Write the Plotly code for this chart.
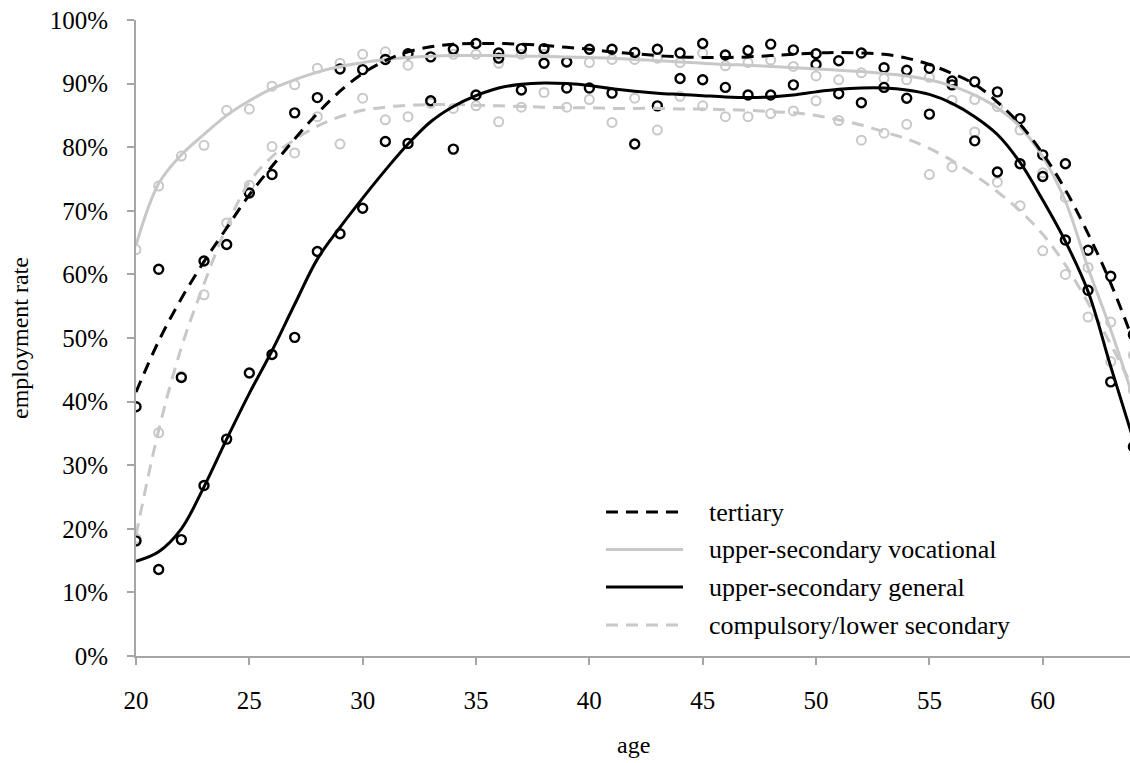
import plotly.graph_objects as go

ages = list(range(20, 65))

# observed employment rates (%)
tertiary = [39.2, 60.8, 43.8, 62.1, 64.7, 72.8, 75.7, 85.4, 87.8, 92.3,
            92.2, 93.8, 94.7, 94.2, 95.4, 96.3, 94.8, 95.5, 95.5, 93.4,
            95.4, 95.4, 94.9, 95.4, 94.8, 96.3, 94.5, 95.2, 96.2, 95.3,
            94.7, 93.6, 94.8, 92.5, 92.1, 92.4, 90.4, 90.3, 88.7, 84.5,
            78.8, 77.4, 63.8, 59.7, 50.5]
vocational = [63.9, 73.9, 78.6, 80.3, 85.8, 86.0, 89.6, 89.8, 92.4, 93.2,
              94.6, 95.0, 92.9, 94.2, 94.6, 94.6, 93.2, 94.6, 94.6, 93.5,
              93.3, 93.8, 93.8, 94.0, 93.3, 94.8, 92.8, 93.3, 93.7, 92.7,
              91.2, 90.6, 91.7, 90.8, 90.6, 91.0, 87.4, 87.5, 86.4, 82.7,
              76.0, 72.1, 61.1, 52.5, 47.3]
general = [18.1, 13.6, 18.3, 26.8, 34.1, 44.5, 47.4, 50.1, 63.6, 66.4,
           70.4, 80.9, 80.6, 87.3, 79.7, 88.2, 94.0, 89.0, 93.2, 89.3,
           89.3, 88.5, 80.5, 86.5, 90.8, 90.6, 89.4, 88.2, 88.2, 89.8,
           93.0, 88.4, 87.0, 89.4, 87.7, 85.2, 89.8, 81.0, 76.1, 77.4,
           75.4, 65.4, 57.5, 43.1, 32.9]
compulsory = [18.5, 35.1, 44.0, 56.8, 68.1, 74.0, 80.1, 79.1, 84.8, 80.5,
              87.7, 84.3, 84.8, 86.9, 86.1, 86.5, 84.0, 86.3, 88.6, 86.3,
              87.5, 83.9, 87.7, 82.7, 88.0, 86.5, 84.8, 84.8, 85.3, 85.7,
              87.3, 84.2, 81.1, 82.2, 83.6, 75.7, 76.9, 82.4, 74.5, 70.8,
              63.7, 60.0, 53.3, 46.3, 41.8]

# smoothed trend lines (%)
tertiary_fit = [41.5, 49.5, 56.2, 62.0, 67.3, 72.5, 77.0, 81.3, 85.3, 88.8,
                91.6, 93.6, 95.0, 95.8, 96.2, 96.3, 96.3, 96.2, 96.0, 95.7,
                95.4, 95.0, 94.7, 94.4, 94.2, 94.1, 94.1, 94.2, 94.4, 94.6,
                94.8, 94.9, 94.8, 94.6, 94.0, 93.0, 91.6, 89.9, 87.1, 83.6,
                79.0, 73.3, 66.4, 58.6, 49.5]
vocational_fit = [64.6, 74.3, 78.8, 82.0, 85.0, 87.3, 89.2, 90.6, 91.8, 92.7,
                  93.3, 93.8, 94.1, 94.3, 94.4, 94.4, 94.4, 94.3, 94.3, 94.2,
                  94.1, 94.0, 93.8, 93.6, 93.4, 93.2, 93.0, 92.9, 92.7, 92.5,
                  92.3, 92.1, 91.9, 91.6, 91.2, 90.6, 89.6, 88.2, 86.2, 83.2,
                  78.5, 71.5, 61.0, 51.3, 40.5]
general_fit = [14.9, 16.4, 20.0, 26.6, 34.1, 41.3, 48.0, 55.3, 62.4, 67.4,
               72.0, 76.4, 80.5, 84.0, 86.4, 88.1, 89.3, 89.9, 90.1, 90.0,
               89.7, 89.2, 88.8, 88.5, 88.3, 88.1, 87.9, 87.8, 87.9, 88.2,
               88.7, 89.1, 89.3, 89.3, 89.0, 88.3, 86.9, 84.8, 82.0, 77.6,
               71.7, 65.2, 57.3, 45.5, 34.0]
compulsory_fit = [19.0, 35.5, 48.5, 58.5, 67.5, 74.5, 78.5, 81.2, 83.3, 84.8,
                  85.8, 86.3, 86.6, 86.7, 86.7, 86.6, 86.5, 86.4, 86.3, 86.2,
                  86.2, 86.1, 86.1, 86.1, 86.0, 86.0, 85.9, 85.8, 85.6, 85.4,
                  85.0, 84.3, 83.5, 82.4, 81.3, 79.8, 77.9, 75.6, 73.0, 70.0,
                  66.3, 61.5, 55.5, 49.0, 42.0]

legend_labels = ["tertiary", "upper-secondary vocational",
                 "upper-secondary general", "compulsory/lower secondary"]

BLACK = "#000000"
GRAY = "#c8c8c8"
AXIS = "#a6a6a6"
FONT = "Liberation Serif, Times New Roman, serif"
DASH = "12px,8px"


def pct(v):
    return [x / 100 for x in v]


fig = go.Figure()

# scatter points (gray first, then black)
for vals, col, lw in [(compulsory, GRAY, 2), (vocational, GRAY, 2),
                      (general, BLACK, 2.4), (tertiary, BLACK, 2.4)]:
    fig.add_trace(go.Scatter(
        x=ages, y=pct(vals), mode="markers", showlegend=False,
        marker=dict(symbol="circle-open", size=9, color=col,
                    line=dict(width=lw, color=col))))

# trend lines
for vals, col, dash in [(compulsory_fit, GRAY, DASH), (vocational_fit, GRAY, "solid"),
                        (general_fit, BLACK, "solid"), (tertiary_fit, BLACK, DASH)]:
    fig.add_trace(go.Scatter(
        x=ages, y=pct(vals), mode="lines", showlegend=False,
        line=dict(color=col, width=3, dash=dash, shape="spline", smoothing=1)))

# layout in pixels
W, H = 1130, 763
L, R, T, B = 136, 0, 20, 107
pw, ph = W - L - R, H - T - B


def px_x(p):
    return (p - L) / pw


def px_y(p):
    return (H - B - p) / ph


# custom legend
legend_rows = [512, 549.5, 587, 625]
legend_styles = [(BLACK, "dash"), (GRAY, "solid"), (BLACK, "solid"), (GRAY, "dash")]
for label, yrow, (col, dash) in zip(legend_labels, legend_rows, legend_styles):
    fig.add_shape(type="line", xref="paper", yref="paper",
                  x0=px_x(606), x1=px_x(683), y0=px_y(yrow), y1=px_y(yrow),
                  line=dict(color=col, width=3, dash=DASH if dash == "dash" else "solid"))
    fig.add_annotation(xref="paper", yref="paper", x=px_x(707), y=px_y(yrow),
                       text=label, showarrow=False, xanchor="left", yanchor="middle",
                       font=dict(family=FONT, size=26, color="#000"))

# axis titles
fig.add_annotation(xref="paper", yref="paper", x=px_x(633), y=px_y(745),
                   text="age", showarrow=False, xanchor="center", yanchor="middle",
                   font=dict(family=FONT, size=24, color="#000"))
fig.add_annotation(xref="paper", yref="paper", x=px_x(20), y=0.5,
                   text="employment rate", showarrow=False, textangle=-90,
                   xanchor="center", yanchor="middle",
                   font=dict(family=FONT, size=24, color="#000"))

fig.update_layout(
    width=W, height=H,
    margin=dict(l=L, r=R, t=T, b=B, pad=0),
    plot_bgcolor="white", paper_bgcolor="white",
    font=dict(family=FONT, size=25, color="#000"),
    showlegend=False,
)
fig.update_xaxes(range=[20, 63.85], tickmode="array", tickvals=list(range(20, 61, 5)),
                 showgrid=False, zeroline=False, showline=True, linecolor=AXIS,
                 linewidth=2, ticks="outside", ticklen=7, tickwidth=2, tickcolor=AXIS,
                 ticklabelstandoff=14, tickfont=dict(family=FONT, size=25))
fig.update_yaxes(range=[0, 1], tickmode="array", tickvals=[i / 10 for i in range(11)],
                 tickformat=".0%", showgrid=False, zeroline=False, showline=True,
                 linecolor=AXIS, linewidth=2, ticks="outside", ticklen=7, tickwidth=2,
                 tickcolor=AXIS, ticklabelstandoff=14, tickfont=dict(family=FONT, size=25))

fig.write_html("out.html")
